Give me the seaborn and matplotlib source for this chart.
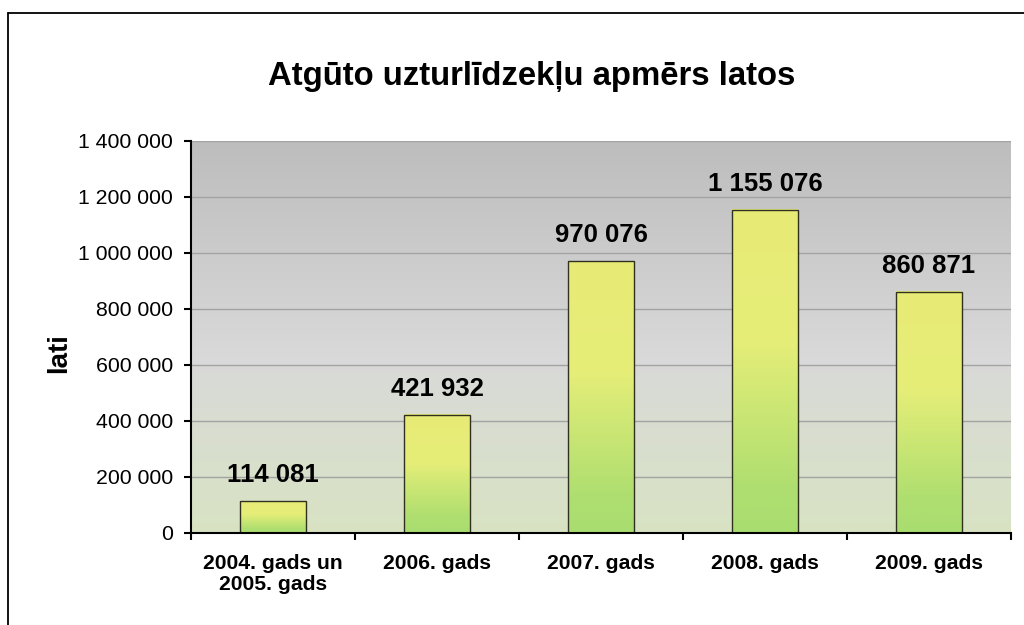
import numpy as np
import pandas as pd
import matplotlib
matplotlib.use("Agg")
import matplotlib.pyplot as plt
import seaborn as sns
from matplotlib.colors import LinearSegmentedColormap
from matplotlib.lines import Line2D
from matplotlib.ticker import FuncFormatter, FixedLocator

categories = ["2004. gads un\n2005. gads", "2006. gads", "2007. gads", "2008. gads", "2009. gads"]
values = [114081, 421932, 970076, 1155076, 860871]
yticks = [0, 200000, 400000, 600000, 800000, 1000000, 1200000, 1400000]
title = "Atgūto uzturlīdzekļu apmērs latos"
ylabel = "lati"

sns.set_theme(style="white")
plt.rcParams['font.family'] = ['Liberation Sans', 'DejaVu Sans']
plt.rcParams['text.color'] = 'black'
plt.rcParams['axes.labelcolor'] = 'black'
plt.rcParams['xtick.color'] = 'black'
plt.rcParams['ytick.color'] = 'black'

fig = plt.figure(figsize=(10.24, 6.25), dpi=100)
ax = fig.add_axes([191/1024, 1-533/625, (1011-191)/1024, (533-141)/625])

df = pd.DataFrame({"cat": categories, "val": values})
sns.barplot(data=df, x="cat", y="val", ax=ax, width=0.40, color="#d0e870",
            edgecolor="#303020", linewidth=1.0, zorder=3)

ax.set_ylim(0, 1400000)
ax.set_xlim(-0.5, len(categories) - 0.5)

# background gradient
bg_cmap = LinearSegmentedColormap.from_list(
    "bg", [(0.0, "#d8e3c3"), (0.45, "#d9d9d9"), (1.0, "#bdbdbd")])
grad = np.linspace(0, 1, 256).reshape(-1, 1)
ax.imshow(grad, cmap=bg_cmap, aspect="auto", extent=[0, 1, 0, 1],
          transform=ax.transAxes, origin="lower", zorder=0)

# bar gradients
bar_cmap = LinearSegmentedColormap.from_list(
    "bar", [(0.0, "#a9dd70"), (0.15, "#b0df70"), (0.6, "#e6ee78"), (1.0, "#e8eb76")])
for p in ax.patches:
    x0, y0 = p.get_x(), p.get_y()
    w, h = p.get_width(), p.get_height()
    ax.imshow(grad, cmap=bar_cmap, aspect="auto",
              extent=[x0, x0 + w, y0, y0 + h], origin="lower", zorder=3)
    p.set_facecolor("none")
    p.set_zorder(4)
    ax.annotate(f"{int(h):,}".replace(",", " "), (x0 + w / 2, y0 + h),
                xytext=(0, 10), textcoords="offset points", ha="center", va="bottom",
                fontsize=18.5, fontweight="bold", color="black")

ax.set_ylim(0, 1400000)
ax.set_xlim(-0.5, len(categories) - 0.5)

ax.set_yticks(yticks)
ax.yaxis.set_major_formatter(FuncFormatter(lambda v, _: f"{int(v):,}".replace(",", " ")))
ax.grid(axis="y", color="#a3a3a3", linewidth=1.0, zorder=1)
ax.set_axisbelow(True)
ax.tick_params(axis="y", which="major", direction="out", length=5, width=1.5,
               labelsize=15.3, color="black", labelcolor="black", left=True, pad=8)
ax.xaxis.set_minor_locator(FixedLocator(np.arange(-0.5, len(categories), 1.0)))
ax.tick_params(axis="x", which="major", length=0, labelsize=15.2, pad=15,
               labelcolor="black")
ax.tick_params(axis="x", which="minor", direction="out", length=5, width=1.5,
               color="black", bottom=True)
for lbl in ax.get_xticklabels():
    lbl.set_fontweight("bold")
    lbl.set_linespacing(1.15)

ax.set_xlabel("")
ax.set_ylabel(ylabel, fontsize=20, fontweight="bold", color="black")
ax.yaxis.set_label_coords((72 - 191) / 820, (533 - 353) / 392)
for s in ["top", "right"]:
    ax.spines[s].set_visible(False)
for s in ["left", "bottom"]:
    ax.spines[s].set_color("black")
    ax.spines[s].set_linewidth(1.5)
    ax.spines[s].set_zorder(6)

fig.text(532/1024, 1-77/625, title, ha="center", va="center",
         fontsize=23.7, fontweight="bold", color="black")

# figure border (chart area frame)
fig.add_artist(Line2D([8/1024, 8/1024], [-0.05, 1-12.5/625], color="black",
                      linewidth=1.3, transform=fig.transFigure, clip_on=False))
fig.add_artist(Line2D([8/1024, 1.05], [1-12.5/625, 1-12.5/625], color="black",
                      linewidth=1.3, transform=fig.transFigure, clip_on=False))

fig.savefig("out.png", dpi=100)
